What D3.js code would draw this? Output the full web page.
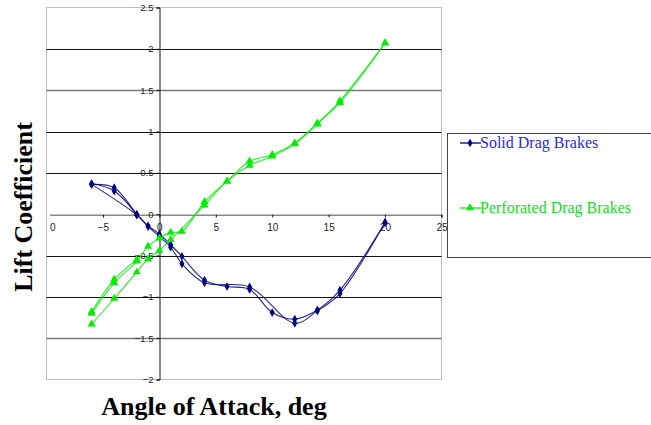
<!DOCTYPE html>
<html>
<head>
<meta charset="utf-8">
<script src="https://cdn.jsdelivr.net/npm/d3@7"></script>
<style>
  html, body { margin: 0; padding: 0; background: #fff; }
  svg { display: block; }
</style>
</head>
<body>
<svg id="chart" width="651" height="425"></svg>
<script>
// ---- data ----
const xTicks = [-10, -5, 0, 5, 10, 15, 20, 25];
const yTicks = [-2, -1.5, -1, -0.5, 0, 0.5, 1, 1.5, 2, 2.5];

const seriesNames = ["Solid Drag Brakes", "Perforated Drag Brakes"];

// Solid drag brakes: increasing sweep, decreasing sweep, repeat at low angles
const solidUpAngle   = [-6, -4, -2, -1, 0, 1, 2, 4, 6, 8, 10, 12, 14, 16, 20];
const solidUpLift    = [0.36, 0.32, 0.0, -0.14, -0.24, -0.37, -0.51, -0.80, -0.875, -0.91, -1.19, -1.27, -1.16, -0.92, -0.10];
const solidDownAngle = [20, 16, 14, 12, 8, 4, 2, 1, 0, -1, -2, -6];
const solidDownLift  = [-0.10, -0.96, -1.17, -1.32, -0.88, -0.83, -0.60, -0.40, -0.27, -0.15, -0.01, 0.36];
const solidRepAngle  = [-6, -4, -2];
const solidRepLift   = [0.37, 0.28, -0.01];

// Perforated drag brakes
const perfUpAngle   = [-6, -4, -2, -1, 0, 1, 4, 6, 8, 10, 12, 14, 16, 20];
const perfUpLift    = [-1.33, -1.02, -0.70, -0.54, -0.44, -0.31, 0.11, 0.40, 0.59, 0.70, 0.85, 1.09, 1.37, 2.07];
const perfDownAngle = [20, 16, 14, 12, 10, 8, 6, 4, 2, 1, 0, -1, -2, -4, -6];
const perfDownLift  = [2.07, 1.35, 1.10, 0.86, 0.72, 0.64, 0.40, 0.15, -0.21, -0.22, -0.29, -0.39, -0.57, -0.83, -1.20];
const perfRepAngle  = [-6, -4, -2];
const perfRepLift   = [-1.18, -0.79, -0.55];

// ---- layout ----
const svg = d3.select("#chart");
const plot = { left: 46.5, right: 441.5, top: 7.5, bottom: 379.5 };
const x = d3.scaleLinear().domain([-10, 25]).range([plot.left, plot.right]);
const y = d3.scaleLinear().domain([-2, 2.5]).range([plot.bottom, plot.top]);

const solidColor = "#000080";
const perfColor = "#00ee00";

svg.append("defs").append("clipPath").attr("id", "plotclip")
  .append("rect").attr("x", plot.left + 3.5).attr("y", 0)
  .attr("width", 651 - plot.left).attr("height", 425);

// plot area border
svg.append("rect")
  .attr("x", plot.left).attr("y", plot.top)
  .attr("width", plot.right - plot.left).attr("height", plot.bottom - plot.top)
  .attr("fill", "#fff").attr("stroke", "#bdbdbd").attr("stroke-width", 1);

// horizontal gridlines
svg.append("g").selectAll("line")
  .data(yTicks.filter(v => v !== 2.5 && v !== -2 && v !== 0))
  .join("line")
  .attr("x1", plot.left).attr("x2", plot.right)
  .attr("y1", d => Math.round(y(d)) + 0.5).attr("y2", d => Math.round(y(d)) + 0.5)
  .attr("stroke", d => Math.abs(d) === 1.5 ? "#7a7a7a" : "#111")
  .attr("stroke-width", d => Math.abs(d) === 1.5 ? 1.6 : 1);

// axes through zero
const yAxis = d3.axisLeft(y).tickValues(yTicks).tickSize(3).tickPadding(3)
  .tickFormat(d => d3.format("")(d));
const gy = svg.append("g").attr("transform", `translate(${Math.round(x(0)) + 0.5},0)`).call(yAxis);
gy.select(".domain").attr("stroke", "#111");
gy.selectAll(".tick line").attr("stroke", "#111");
gy.selectAll(".tick text").attr("font-family", "Arial, 'Liberation Sans', sans-serif")
  .attr("font-size", "9.5px").attr("fill", "#222");

const xAxis = d3.axisBottom(x).tickValues(xTicks).tickSize(3).tickPadding(6)
  .tickFormat(d => d3.format("")(d));
const gx = svg.append("g").attr("transform", `translate(0,${Math.round(y(0)) + 0.5})`)
  .attr("clip-path", "url(#plotclip)").call(xAxis);
gx.select(".domain").attr("stroke", "#111");
gx.selectAll(".tick line").attr("stroke", "#111");
gx.selectAll(".tick text").attr("font-family", "Arial, 'Liberation Sans', sans-serif")
  .attr("font-size", "10px").attr("fill", "#222");

// ---- series ----
const line = d3.line().x(d => x(d[0])).y(d => y(d[1])).curve(d3.curveCatmullRom.alpha(0.5));
const zip = (a, b) => a.map((v, i) => [v, b[i]]);

function drawSeries(paths, color, width) {
  const g = svg.append("g");
  paths.forEach(p => {
    g.append("path").attr("d", line(p)).attr("fill", "none")
      .attr("stroke", color).attr("stroke-width", width).attr("opacity", 0.85);
  });
  return g;
}

const solidPaths = [zip(solidUpAngle, solidUpLift), zip(solidDownAngle, solidDownLift), zip(solidRepAngle, solidRepLift)];
const perfPaths = [zip(perfUpAngle, perfUpLift), zip(perfDownAngle, perfDownLift), zip(perfRepAngle, perfRepLift)];

drawSeries(solidPaths, solidColor, 1.1);
drawSeries(perfPaths, perfColor, 1.1);

const diamond = d3.symbol().type(d3.symbolDiamond).size(22);
const triangle = d3.symbol().type(d3.symbolTriangle).size(28);

svg.append("g").selectAll("path")
  .data(solidPaths.flat())
  .join("path")
  .attr("d", diamond)
  .attr("transform", d => `translate(${x(d[0])},${y(d[1])})`)
  .attr("fill", solidColor);

svg.append("g").selectAll("path")
  .data(perfPaths.flat())
  .join("path")
  .attr("d", triangle)
  .attr("transform", d => `translate(${x(d[0])},${y(d[1])})`)
  .attr("fill", perfColor);

// ---- axis titles ----
svg.append("text")
  .attr("x", 214).attr("y", 415)
  .attr("text-anchor", "middle")
  .attr("font-family", "'Liberation Serif', 'Times New Roman', serif")
  .attr("font-weight", "bold").attr("font-size", "26px").attr("fill", "#000")
  .text("Angle of Attack, deg");

svg.append("text")
  .attr("transform", "translate(32,207) rotate(-90)")
  .attr("text-anchor", "middle")
  .attr("font-family", "'Liberation Serif', 'Times New Roman', serif")
  .attr("font-weight", "bold").attr("font-size", "26px").attr("fill", "#000")
  .text("Lift Coefficient");

// ---- legend ----
const lg = svg.append("g");
lg.append("rect").attr("x", 447.5).attr("y", 133.5).attr("width", 220).attr("height", 124)
  .attr("fill", "#fff").attr("stroke", "#444").attr("stroke-width", 1);

const legendItems = [
  { name: seriesNames[0], color: solidColor, text: "#2a2ae8", sym: diamond, y: 143 },
  { name: seriesNames[1], color: perfColor, text: "#14dc28", sym: triangle, y: 208 }
];
legendItems.forEach(it => {
  lg.append("line").attr("x1", 460).attr("x2", 481).attr("y1", it.y).attr("y2", it.y)
    .attr("stroke", it.color).attr("stroke-width", 1.3);
  lg.append("path").attr("d", it.sym).attr("transform", `translate(470,${it.y})`).attr("fill", it.color);
  lg.append("text").attr("x", 480).attr("y", it.y + 5)
    .attr("font-family", "'Liberation Serif', 'Times New Roman', serif")
    .attr("font-size", "16px").attr("fill", it.text)
    .text(it.name);
});
</script>
</body>
</html>
